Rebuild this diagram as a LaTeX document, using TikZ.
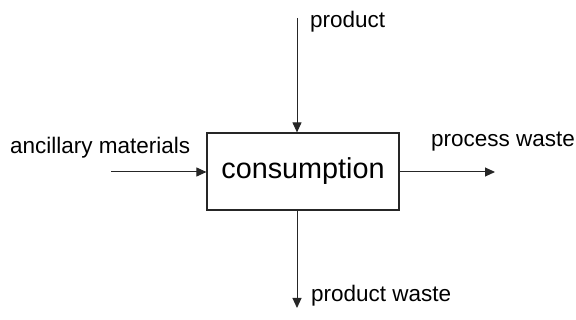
\documentclass[tikz,border=0pt]{standalone}
\usepackage{fontspec}
\setmainfont{Liberation Sans}
\usetikzlibrary{arrows.meta,positioning}

\begin{document}
\begin{tikzpicture}[x=1pt,y=-1pt,
		flow/.style={draw=black!85,line width=1pt,-{Triangle[length=10pt,width=9pt]}},
		label/.style={anchor=base west,inner sep=0pt,font=\fontsize{22.5}{26}\selectfont}]
			\useasboundingbox (0,0) rectangle (576,320);
			\node (box) at (303,171.5) [draw=black!85,line width=1.2pt,minimum width=192pt,minimum height=77pt,inner sep=0pt,font=\fontsize{28.8}{34}\selectfont] {consumption};
			\node (lbltop) [label] at (310,28) {product};
			\node (lblleft) [label] at (10,154) {ancillary materials};
			\node (lblright) [label] at (431,147) {process waste};
			\node (lblbottom) [label] at (311,302) {product waste};

			\coordinate (top) at (297,18);
			\coordinate (left) at (111,172);
			\coordinate (right) at (495,172);
			\coordinate (bottom) at (297,308);

			\draw [flow] (top) to (top |- box.north);
			\draw [flow] (left) to (left -| box.west);
			\draw [flow] (right -| box.east) to (right);
			\draw [flow] (bottom |- box.south) to (bottom);
	\end{tikzpicture}
\end{document}
